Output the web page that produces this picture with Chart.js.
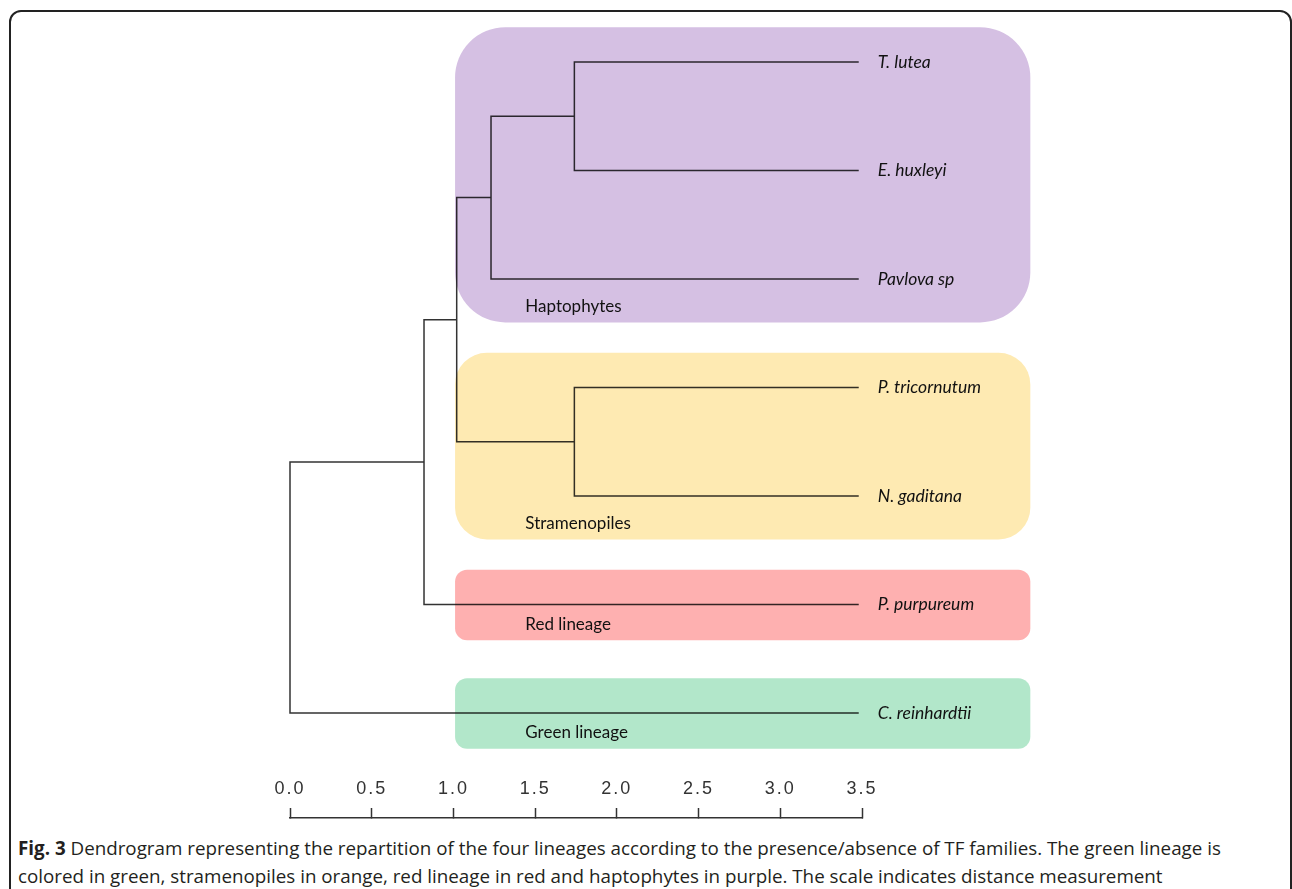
<!DOCTYPE html>
<html>
<head>
<meta charset="utf-8">
<script src="https://cdn.jsdelivr.net/npm/chart.js@4.4.1/dist/chart.umd.min.js"></script>
<style>
  html, body { margin: 0; padding: 0; background: #fff; width: 1292px; height: 889px; overflow: hidden; }
  #frame {
    position: absolute; left: 9px; top: 10px; width: 1283px; height: 900px;
    box-sizing: border-box; border: 2px solid #222; border-radius: 12px;
  }
  #wrap { position: absolute; left: 0; top: 0; width: 1292px; height: 830px; }
  #caption {
    position: absolute; left: 18px; top: 834px; white-space: nowrap;
    font-family: "Open Sans", sans-serif; font-size: 18.8px; line-height: 28px; color: #231f20;
  }
  #caption b { font-weight: 700; }
</style>
</head>
<body>
<div id="frame"></div>
<div id="wrap"><canvas id="dendro" width="1292" height="830"></canvas></div>
<div id="caption"><b>Fig. 3</b> Dendrogram representing the repartition of the four lineages according to the presence/absence of TF families. The green lineage is<br>colored in green, stramenopiles in orange, red lineage in red and haptophytes in purple. The scale indicates distance measurement</div>
<script>
// leaves, top to bottom
const leafNames = ["T. lutea", "E. huxleyi", "Pavlova sp", "P. tricornutum", "N. gaditana", "P. purpureum", "C. reinhardtii"];
const leafDist = 3.48;

// merges (ids 7.. follow the leaves): left child, right child, distance of the join
const mergeLeft = [0, 7, 3, 8, 10, 11];
const mergeRight = [1, 2, 4, 9, 5, 6];
const mergeDist = [1.74, 1.23, 1.74, 1.02, 0.82, 0.0];

// scale ticks
const scaleTicks = [0, 0.5, 1, 1.5, 2, 2.5, 3, 3.5];

// lineage boxes: first and last leaf covered
const groupNames = ["Haptophytes", "Stramenopiles", "Red lineage", "Green lineage"];
const groupFirst = [0, 3, 5, 6];
const groupLast = [2, 4, 5, 6];
const groupColors = ["#d5c0e3", "#feeab2", "#feb0b0", "#b2e7ca"];

// node positions
const nodeX = leafNames.map(() => leafDist);
const nodeY = leafNames.map((_, i) => i);
mergeDist.forEach((d, i) => {
  nodeX.push(d);
  nodeY.push((nodeY[mergeLeft[i]] + nodeY[mergeRight[i]]) / 2);
});

// one elbow per merge
const datasets = mergeDist.map((d, i) => {
  const a = mergeLeft[i], b = mergeRight[i];
  return {
    data: [
      { x: nodeX[a], y: nodeY[a] },
      { x: d, y: nodeY[a] },
      { x: d, y: nodeY[b] },
      { x: nodeX[b], y: nodeY[b] },
    ],
    showLine: true,
    borderColor: "#333",
    borderWidth: 1.5,
    pointRadius: 0,
    tension: 0,
    clip: false,
  };
});

const boxesPlugin = {
  id: "boxes",
  beforeDraw(chart) {
    // wider letter spacing for the scale numbers
    chart.ctx.letterSpacing = "2px";
  },
  beforeDatasetsDraw(chart) {
    chart.ctx.letterSpacing = "0px";
  },
  afterDatasetsDraw(chart) {
    const { ctx, scales } = chart;
    const xs = scales.x, ys = scales.y;
    const left = xs.getPixelForValue(1.01);
    const right = xs.getPixelForValue(4.53);

    ctx.save();
    ctx.globalCompositeOperation = "multiply";
    groupNames.forEach((name, i) => {
      const multi = groupLast[i] > groupFirst[i];
      const top = ys.getPixelForValue(groupFirst[i] - 0.32);
      const bottom = ys.getPixelForValue(groupLast[i] + (multi ? 0.4 : 0.33));
      const r = (bottom - top) * 0.17;
      ctx.fillStyle = groupColors[i];
      ctx.beginPath();
      ctx.roundRect(left, top, right - left, bottom - top, r);
      ctx.fill();
    });
    ctx.restore();

    ctx.save();
    ctx.fillStyle = "#111";
    ctx.textBaseline = "middle";
    ctx.textAlign = "left";
    ctx.font = "17px Lato, sans-serif";
    groupNames.forEach((name, i) => {
      const multi = groupLast[i] > groupFirst[i];
      const bottom = ys.getPixelForValue(groupLast[i] + (multi ? 0.4 : 0.33));
      ctx.fillText(name, xs.getPixelForValue(1.44), bottom - 16);
    });
    ctx.font = "italic 17.5px Lato, sans-serif";
    leafNames.forEach((name, i) => {
      ctx.fillText(name, xs.getPixelForValue(leafDist) + 19, ys.getPixelForValue(i));
    });
    ctx.restore();
  },
};

new Chart(document.getElementById("dendro"), {
  type: "scatter",
  data: { datasets },
  options: {
    responsive: false,
    animation: false,
    devicePixelRatio: 1,
    layout: { padding: { left: 290, right: 430, top: 20, bottom: 12 } },
    plugins: { legend: { display: false }, tooltip: { enabled: false } },
    scales: {
      x: {
        type: "linear",
        position: "bottom",
        min: 0,
        max: 3.5,
        afterBuildTicks: (s) => { s.ticks = scaleTicks.map((v) => ({ value: v })); },
        afterFit: (s) => { s.height = 0; },
        ticks: {
          callback: (v) => Number(v).toFixed(1),
          font: { family: "Arial, sans-serif", size: 18 },
          color: "#333",
          mirror: true,
          padding: 18,
          maxRotation: 0,
          autoSkip: false,
        },
        grid: { drawOnChartArea: false, drawTicks: true, tickLength: -10, tickColor: "#333", tickWidth: 1.5 },
        border: { display: true, color: "#333", width: 1.5 },
      },
      y: {
        type: "linear",
        display: false,
        reverse: true,
        min: -0.387,
        max: 6.968,
      },
    },
  },
  plugins: [boxesPlugin],
});
</script>
</body>
</html>
